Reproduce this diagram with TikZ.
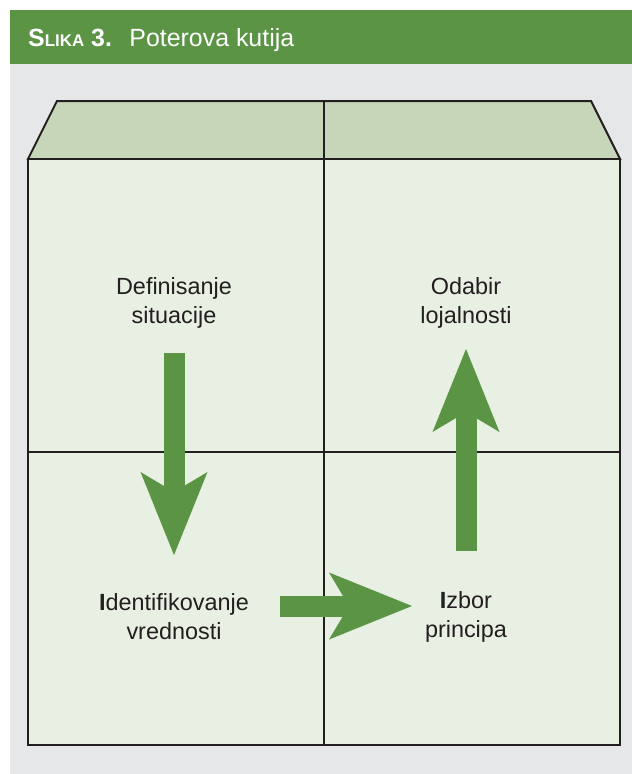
\documentclass[tikz,border=0pt]{standalone}
\usepackage{fontspec}
\setmainfont{Liberation Sans}
\usetikzlibrary{arrows.meta}
\definecolor{slikagreen}{HTML}{5A9444}
\definecolor{panelgray}{HTML}{E6E7E8}
\definecolor{topface}{HTML}{C7D6B8}
\definecolor{frontface}{HTML}{E8EFE3}
\definecolor{boxink}{HTML}{231F20}
\tikzstyle{celltext} = [align=center, inner sep=0pt, text=boxink, font=\fontsize{23.5}{29}\selectfont]
\tikzstyle{boxline} = [draw=boxink, line width=2bp, line join=miter]
\tikzstyle{bigarrow} = [draw=slikagreen, line width=21bp, -{Stealth[length=83bp, width=67bp, inset=20bp, line width=0pt, fill=slikagreen]}]

\begin{document}
\begin{tikzpicture}[x=1bp, y=-1bp]
\useasboundingbox (0,0) rectangle (632,774);

% Background and header
\fill[white] (0,0) rectangle (632,774);
\fill[panelgray] (10,64) rectangle (632,774);
\fill[slikagreen] (10,10) rectangle (632,64);
\node (title) [anchor=base west, inner sep=0pt, text=white] at (28,47)
  {\fontsize{25}{25}\selectfont\textbf{S{\fontsize{17}{17}\selectfont LIKA} 3.}\hspace{0.7em}Poterova kutija};

% Top face of the box
\filldraw[boxline, fill=topface] (57,101) -- (591,101) -- (620,159) -- (28,159) -- cycle;
\draw[boxline] (324,101) -- (324,159);

% Front face of the box
\filldraw[boxline, fill=frontface] (28,159) rectangle (620,745);
\draw[boxline] (324,159) -- (324,745);
\draw[boxline] (28,452) -- (620,452);

% Cell texts
\node (def) [celltext] at (174,303) {Definisanje\\situacije};
\node (odb) [celltext] at (466,303) {Odabir\\lojalnosti};
\node (ide) [celltext] at (174,617) {\textbf{I}dentifikovanje\\vrednosti};
\node (izb) [celltext] at (466,617) {\textbf{I}zbor\\principa};

% Arrows
\draw [bigarrow, shorten <=50bp, shorten >=62bp] (def.center) -- (ide.center);
\draw [bigarrow, shorten <=106bp, shorten >=54bp] ([yshift=11bp]ide.center) -- ([yshift=11bp]izb.center);
\draw [bigarrow, shorten <=66bp, shorten >=46bp] (izb.center) -- (odb.center);

\end{tikzpicture}
\end{document}
